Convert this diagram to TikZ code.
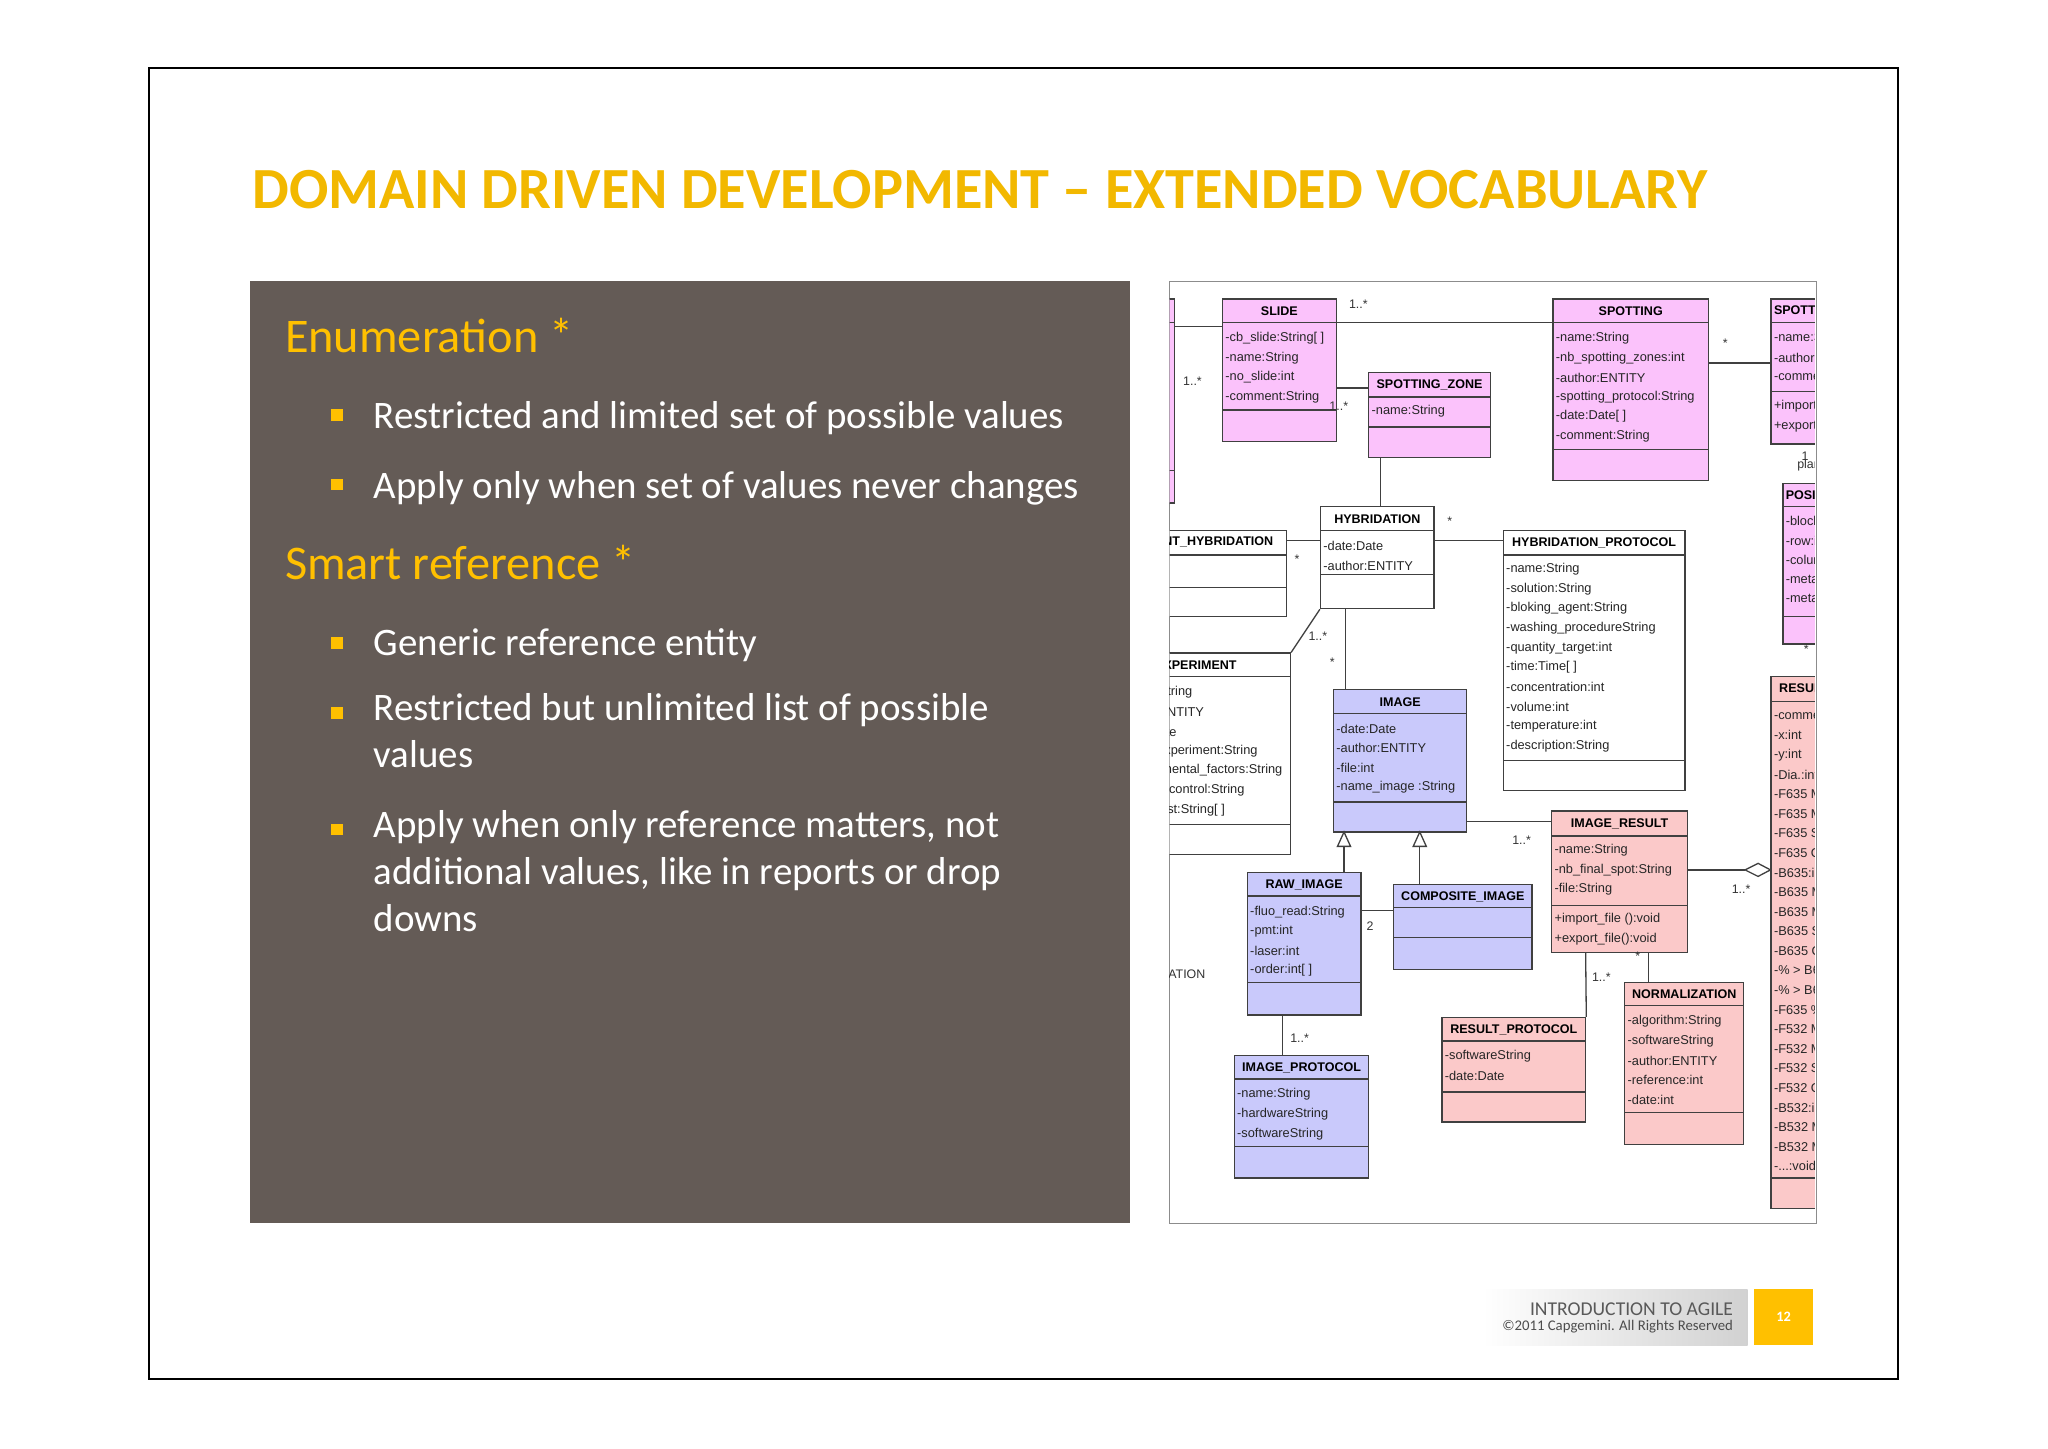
\documentclass[tikz,border=0pt]{standalone}
\usepackage{fontspec}
\setmainfont{Carlito}
\newfontfamily\umlfont{Liberation Sans}
\definecolor{gold}{HTML}{F2B800}
\definecolor{ygold}{HTML}{FFC000}
\definecolor{panel}{HTML}{645B56}
\definecolor{upink}{HTML}{FBC2FB}
\definecolor{ulav}{HTML}{C9C9FB}
\definecolor{usal}{HTML}{FBC9C9}
\definecolor{uline}{HTML}{404040}
\newcommand\tdots{...}
\tikzset{
  umlbox/.style={draw=uline,line width=1pt,inner sep=0pt,rectangle},
  hdr/.style={font=\umlfont\bfseries\fontsize{9.6}{10}\selectfont,inner sep=0pt},
  attr/.style={font=\umlfont\fontsize{9.8}{10}\selectfont,inner sep=0pt,anchor=west,text=black!85},
  mult/.style={font=\umlfont\fontsize{9.5}{10}\selectfont,inner sep=0pt,text=black!80},
  conn/.style={draw=uline,line width=1pt},
  bul/.style={font=\fontsize{29.8}{36}\selectfont,text=white,anchor=west,inner sep=0pt,align=left},
  head/.style={font=\fontsize{37}{42}\selectfont,text=ygold,anchor=west,inner sep=0pt},
  sq/.style={fill=ygold,minimum size=9pt,inner sep=0pt}
}
\newcommand\umlcls[9]{%
  \node[umlbox,fill=#2,minimum width={(#5-#3)*1pt},minimum height={(#6-#4)*1pt}] (#1) at ({(#3+#5)/2},{(#4+#6)/2}) {};
  \draw[uline,line width=1pt] (#3,#7) -- (#5,#7) (#3,#8) -- (#5,#8);
  \node[hdr] (#1-t) at ({(#3+#5)/2},{(#4+#7)/2+0.5}) {#9};}
\newcommand\attrs[3]{%
  \foreach \t [count=\i] in {#3} \node[attr] at (#1,{#2+(\i-1)*15}) {\t};}
\newcommand\attrse[3]{%
  \foreach \t [count=\i] in {#3} \node[attr,anchor=east] at (#1,{#2+(\i-1)*15}) {\t};}
\begin{document}
\begin{tikzpicture}[x=1pt,y=-1pt]
\useasboundingbox[fill=white] (0,0) rectangle (1568,1109);
\draw[line width=1.5pt] (114,52) rectangle (1453,1056);
\node[anchor=base west,inner sep=0,font=\fontsize{44.6}{48}\selectfont\bfseries,text=gold] (title) at (193,160) {DOMAIN DRIVEN DEVELOPMENT – EXTENDED VOCABULARY};
% left panel
\node[fill=panel,minimum width=674pt,minimum height=721pt,inner sep=0,anchor=north west] (pnl) at (191,215) {};
\node[head] (h1) at (218,257) {Enumeration *};
\node[sq] (s1) at (258,318) {}; \node[bul] (b1) at (286,320) {Restricted and limited set of possible values};
\node[sq] (s2) at (258,371) {}; \node[bul] (b2) at (286,374) {Apply only when set of values never changes};
\node[head] (h2) at (218,431) {Smart reference *};
\node[sq] (s3) at (258,492) {}; \node[bul] (b3) at (286,494) {Generic reference entity};
\node[sq] (s4) at (258,546) {}; \node[bul,anchor=north west] (b4) at (286,531) {Restricted but unlimited list of possible\\values};
\node[sq] (s5) at (258,635) {}; \node[bul,anchor=north west] (b5) at (286,620) {Apply when only reference matters, not\\additional values, like in reports or drop\\downs};
% UML panel
\node[draw=black!45,fill=white,line width=0.8pt,minimum width=495pt,minimum height=721pt,inner sep=0,anchor=north west] (upnl) at (895,215) {};
\begin{scope}
\clip (895.5,215.5) rectangle (1389.5,935.5);
% left partial pink
\umlcls{lp}{upink}{800}{229}{899}{385}{247}{360}{}
\umlcls{slide}{upink}{936}{229}{1023}{338}{247}{314}{SLIDE}
\attrs{938}{259}{-cb\_slide:String[ ],-name:String,-no\_slide:int,-comment:String}
\umlcls{sz}{upink}{1048}{285}{1141}{350}{304}{327}{SPOTTING\_ZONE}
\attrs{1050}{315}{-name:String}
\umlcls{spot}{upink}{1189}{229}{1308}{368}{247}{344}{SPOTTING}
\attrs{1191}{259}{-name:String,-nb\_spotting\_zones:int,-author:ENTITY,-spotting\_protocol:String,-date:Date[ ],-comment:String}
\umlcls{spott}{upink}{1356}{229}{1460}{340}{247}{300}{}
\node[hdr,anchor=west] at (1358,238) {SPOTTING\_};
\attrs{1358}{259}{-name:String,-author:ENTITY,-comment:String}
\attrs{1358}{311}{+import\_file():void,+export\_file():void}
\umlcls{pos}{upink}{1365}{370}{1460}{493}{388}{472}{}
\node[hdr,anchor=west] at (1367,379) {POSITION};
\attrs{1367}{399}{-block:int,-row:int,-column:int,-meta\_row:int,-meta\_col:int}
\umlcls{resu}{usal}{1356}{518}{1460}{925}{537}{902}{}
\node[hdr,anchor=west] at (1362,527) {RESULT};
\attrs{1358}{548}{-comment:String,-x:int,-y:int,-Dia.:int,-F635 Median,-F635 Mean,-F635 SD,-F635 CV,-B635:int,-B635 Median,-B635 Mean,-B635 SD,-B635 CV,-\% > B635,-\% > B635,-F635 \%,-F532 Median,-F532 Mean,-F532 SD,-F532 CV,-B532:int,-B532 Median,-B532 Mean,-\tdots:void}
\umlcls{thyb}{white}{800}{406}{985}{472}{425}{450}{}
\node[hdr,anchor=east] at (975,415) {EXPERIMENT\_HYBRIDATION};
\umlcls{hyb}{white}{1011}{388}{1098}{466}{406}{440}{HYBRIDATION}
\attrs{1013}{418}{-date:Date,-author:ENTITY}
\umlcls{hp}{white}{1151}{406}{1290}{605}{425}{582}{HYBRIDATION\_PROTOCOL}
\attrs{1153}{436}{-name:String,-solution:String,-bloking\_agent:String,-washing\_procedureString,-quantity\_target:int,-time:Time[ ],-concentration:int,-volume:int,-temperature:int,-description:String}
\umlcls{exp}{white}{780}{500}{988}{654}{518}{631}{}
\node[hdr,anchor=east] at (947,509) {EXPERIMENT};
\attrse{913}{530}{-name:String}
\attrse{922}{545}{-author:ENTITY}
\attrse{901}{560}{-date:Date}
\attrse{963}{575}{-type\_experiment:String}
\attrse{982}{590}{-experimental\_factors:String}
\attrse{953}{605}{-control:String}
\attrse{938}{620}{-list:String[ ]}
\node[mult,anchor=east] (ation) at (923,746) {ATION};
\umlcls{img}{ulav}{1021}{528}{1123}{637}{546}{614}{IMAGE}
\attrs{1023}{558}{-date:Date,-author:ENTITY,-file:int,-name\_image :String}
\umlcls{raw}{ulav}{955}{668}{1042}{777}{686}{752}{RAW\_IMAGE}
\attrs{957}{698}{-fluo\_read:String,-pmt:int,-laser:int,-order:int[ ]}
\umlcls{comp}{ulav}{1067}{677}{1173}{742}{695}{718}{COMPOSITE\_IMAGE}
\umlcls{ip}{ulav}{945}{808}{1048}{902}{826}{878}{IMAGE\_PROTOCOL}
\attrs{947}{838}{-name:String,-hardwareString,-softwareString}
\umlcls{ir}{usal}{1188}{621}{1292}{729}{640}{693}{IMAGE\_RESULT}
\attrs{1190}{651}{-name:String,-nb\_final\_spot:String,-file:String}
\attrs{1190}{704}{+import\_file ():void,+export\_file():void}
\umlcls{rp}{usal}{1104}{779}{1214}{859}{797}{836}{RESULT\_PROTOCOL}
\attrs{1106}{809}{-softwareString,-date:Date}
\umlcls{norm}{usal}{1244}{752}{1335}{876}{770}{852}{NORMALIZATION}
\attrs{1246}{782}{-algorithm:String,-softwareString,-author:ENTITY,-reference:int,-date:int}
% connectors
\draw[conn] (slide.north east |- 0,247) -- (spot.north west |- 0,247);
\draw[conn] (lp.east |- 0,250) -- (slide.west |- 0,250);
\draw[conn] (slide.east |- 0,297) -- (sz.west |- 0,297);
\draw[conn] (spot.east |- 0,278) -- (spott.west |- 0,278);
\draw[conn] (sz.south -| 1057,0) -- (hyb.north -| 1057,0);
\draw[conn] (hyb.east |- 0,414) -- (hp.west |- 0,414);
\draw[conn] (thyb.east |- 0,414) -- (hyb.west |- 0,414);
\draw[conn] (hyb.south -| 1030,0) -- (img.north -| 1030,0);
\draw[conn] (exp.north east) -- (hyb.south west);
\draw[conn] (img.east |- 0,629) -- (ir.west |- 0,629);
\draw[conn] (raw.north -| 1029,0) -- (1029,648);
\draw[conn,fill=white] (1029,637) -- (1024,648) -- (1034,648) -- cycle;
\draw[conn] (comp.north -| 1087,0) -- (1087,648);
\draw[conn,fill=white] (1087,637) -- (1082,648) -- (1092,648) -- cycle;
\draw[conn] (raw.east |- 0,697) -- (comp.west |- 0,697);
\draw[conn] (raw.south -| 982,0) -- (ip.north -| 982,0);
\draw[conn] (ir.east |- 0,666) -- (1336,666);
\draw[conn,fill=white] (resu.west |- 0,666) -- (1346,661) -- (1336,666) -- (1346,671) -- cycle;
\draw[conn] (ir.south -| 1214,0) -- (rp.north east);
\draw[conn] (ir.south -| 1262,0) -- (norm.north -| 1262,0);
% multiplicities
\node[mult] at (1040,233) {1..*};
\node[mult] at (913,292) {1..*};
\node[mult] at (1025,311) {1..*};
\node[mult] at (1321,263) {*};
\node[mult] at (1110,399) {*};
\node[mult] at (993,428) {*};
\node[mult] at (1020,507) {*};
\node[mult] at (1009,487) {1..*};
\node[mult] at (1165,643) {1..*};
\node[mult] at (1049,709) {2};
\node[mult] at (995,795) {1..*};
\node[mult] at (1333,681) {1..*};
\node[mult] at (1226,748) {1..*};
\node[mult] at (1254,732) {*};
\node[mult] at (1382,349) {1};
\node[mult] at (1385,356) {plan};
\node[mult] at (1383,497) {*};
\end{scope}
% footer
\shade[left color=white,right color=black!18] (1135,987) rectangle (1338,1030);
\node[anchor=east,inner sep=0,font=\fontsize{15}{16}\selectfont,text=black!65] (f1) at (1327,1002) {INTRODUCTION TO AGILE};
\node[anchor=east,inner sep=0,font=\fontsize{11.3}{12}\selectfont,text=black!70] (f2) at (1327,1016) {©2011 Capgemini. All Rights Reserved};
\node[fill=ygold,minimum width=45pt,minimum height=43pt,inner sep=0,text=white,font=\fontsize{11}{12}\selectfont\bfseries] (pg) at (1365.5,1008.5) {12};
\end{tikzpicture}
\end{document}
